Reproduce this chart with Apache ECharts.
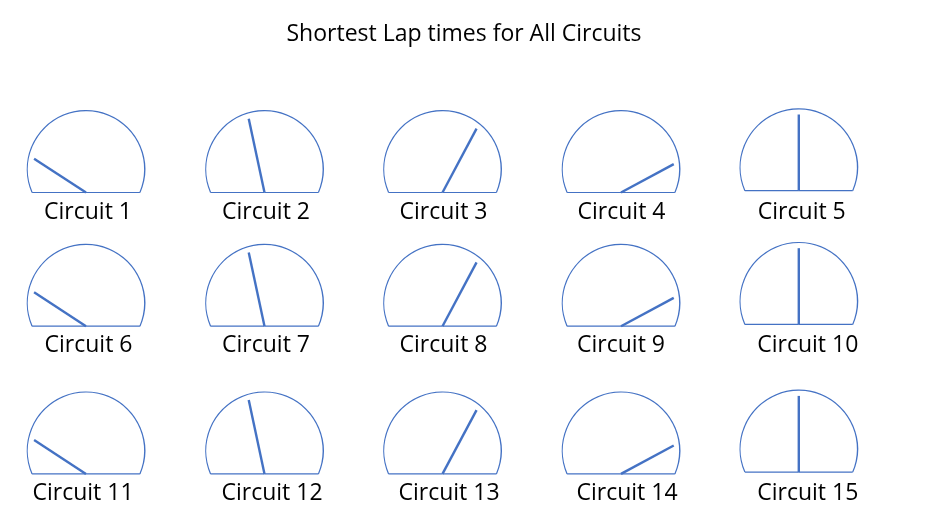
<!DOCTYPE html>
<html><head><meta charset="utf-8">
<script src="https://cdn.jsdelivr.net/npm/echarts@6/dist/echarts.min.js"></script>
<style>html,body{margin:0;padding:0;background:#fff}#c{width:946px;height:525px}</style>
</head><body><div id="c"></div>
<script>
// ---- data ----
const titleText = 'Shortest Lap times for All Circuits';
const circuits = ['Circuit 1','Circuit 2','Circuit 3','Circuit 4','Circuit 5',
  'Circuit 6','Circuit 7','Circuit 8','Circuit 9','Circuit 10',
  'Circuit 11','Circuit 12','Circuit 13','Circuit 14','Circuit 15'];
const lapValues = [18.4, 43.3, 65.6, 84.3, 50,
  18.4, 43.3, 65.6, 84.3, 50,
  18.4, 43.3, 65.6, 84.3, 50];
const gaugeMin = 0;
const gaugeMax = 100;

// ---- layout / style ----
const colX = [86, 264.5, 442.5, 621, 798.8];
const rowY = [169.3, 303, 450.7];
const colShift = [0, 0, 0, 0, -1.8];
const labelDX = [2, 1.5, 1, 0.5, 3, 2.5, 1.5, 1, 0, 9, -3, 7.5, 6.5, 6, 9];
const R = 58.7, D = 23.2, tipR = 53;
const blue = '#4472C4';
const FONT = 'Open Sans';
const alpha = Math.asin(D / R) * 180 / Math.PI;
const halfChord = Math.sqrt(R * R - D * D);

function needleLen(v) {
  const phi = (180 - 180 * (v - gaugeMin) / (gaugeMax - gaugeMin)) * Math.PI / 180;
  const s = D * Math.sin(phi);
  return s + Math.sqrt(s * s - D * D + tipR * tipR);
}

const hidden = {
  splitLine: { show: false }, axisTick: { show: false }, axisLabel: { show: false },
  anchor: { show: false }, progress: { show: false }
};

const series = [];
circuits.forEach((name, i) => {
  const c = i % 5, r = Math.floor(i / 5);
  const cx = colX[c], cy = rowY[r] + colShift[c];
  series.push(Object.assign({
    type: 'gauge', silent: true,
    center: [cx, cy], radius: R + 0.6,
    startAngle: 180 + alpha, endAngle: -alpha,
    min: gaugeMin, max: gaugeMax,
    axisLine: { lineStyle: { width: 1.2, color: [[1, blue]] } },
    pointer: { show: false },
    title: { show: false }, detail: { show: false },
    data: [{ value: gaugeMin }]
  }, hidden));
  series.push(Object.assign({
    type: 'gauge', silent: true,
    center: [cx, cy + D], radius: R,
    startAngle: 180, endAngle: 0,
    min: gaugeMin, max: gaugeMax,
    axisLine: { show: false },
    pointer: { icon: 'rect', width: 1.2 },
    itemStyle: { color: blue },
    title: { show: true, offsetCenter: [labelDX[i], 19.5 - colShift[c]], fontSize: 23, color: '#000', fontFamily: FONT },
    detail: { show: false },
    data: [
      { value: gaugeMin, name: '', pointer: { length: halfChord, width: 1.2 }, title: { show: false } },
      { value: gaugeMax, name: ' ', pointer: { length: halfChord, width: 1.2 }, title: { show: false } },
      { value: lapValues[i], name: name, pointer: { length: needleLen(lapValues[i]), width: 2.4 } }
    ]
  }, hidden));
});

const chart = echarts.init(document.getElementById('c'), null, { renderer: 'canvas' });
chart.setOption({
  animation: false,
  backgroundColor: '#fff',
  title: {
    text: titleText, left: 459, top: 18, textAlign: 'center',
    textStyle: { fontSize: 23, fontWeight: 'normal', color: '#000', fontFamily: FONT }
  },
  series: series
});
</script></body></html>
